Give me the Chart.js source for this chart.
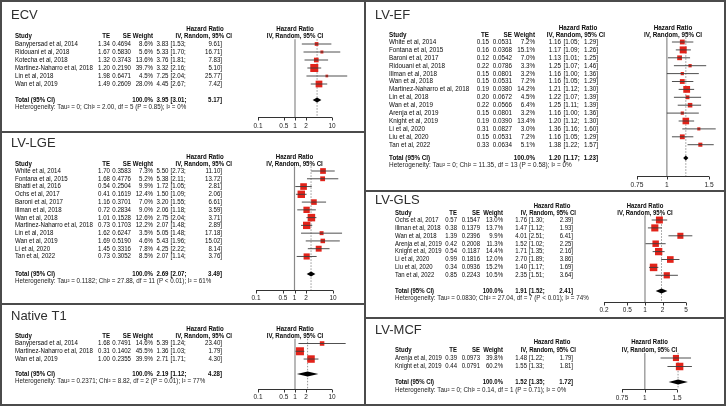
<!DOCTYPE html>
<html>
<head>
<meta charset="utf-8">
<script src="https://cdn.jsdelivr.net/npm/chart.js@4.4.1/dist/chart.umd.min.js"></script>
<style>
html, body { margin: 0; padding: 0; background: #fff; }
body { width: 728px; height: 407px; position: relative; overflow: hidden; }
.panel { position: absolute; box-sizing: border-box; border: 2px solid #4b4b4b; background: #fff; }
.panel canvas { position: absolute; left: -2px; top: -2px; }
</style>
</head>
<body>
<script>
// ---- ECV
const ecvStudy = ['Banypersad et al, 2014', 'Ridouani et al, 2018', 'Kotecha et al, 2018', 'Martinez-Naharro et al, 2018', 'Lin et al, 2018', 'Wan et al, 2019'];
const ecvTE = [1.34, 1.67, 1.32, 1.20, 1.98, 1.49];
const ecvSE = [0.4694, 0.5830, 0.3743, 0.2190, 0.6471, 0.2609];
const ecvWeight = [8.6, 5.6, 13.6, 39.7, 4.5, 28.0];
const ecvHR = [3.83, 5.33, 3.76, 3.32, 7.25, 4.45];
const ecvLo = [1.53, 1.70, 1.81, 2.16, 2.04, 2.67];
const ecvHi = [9.61, 16.71, 7.83, 5.10, 25.77, 7.42];
const ecvPooled = [3.95, 3.01, 5.17];
const ecvHet = 'Heterogeneity: Tau\u00b2 = 0; Chi\u00b2 = 2.00, df = 5 (P = 0.85); I\u00b2 = 0%';
const ecvTicks = [0.1, 0.5, 1, 2, 10];

// ---- LV-LGE
const lgeStudy = ['White et al, 2014', 'Fontana et al, 2015', 'Bhatti et al, 2016', 'Ochs et al, 2017', 'Baroni et al, 2017', 'Illman et al, 2018', 'Wan et al, 2018', 'Martinez-Naharro et al, 2018', 'Lin et al, 2018', 'Wan et al, 2019', 'Li et al, 2020', 'Tan et al, 2022'];
const lgeTE = [1.70, 1.68, 0.54, 0.41, 1.16, 0.72, 1.01, 0.73, 1.62, 1.69, 1.45, 0.73];
const lgeSE = [0.3583, 0.4776, 0.2504, 0.1619, 0.3701, 0.2834, 0.1528, 0.1703, 0.6247, 0.5190, 0.3316, 0.3052];
const lgeWeight = [7.3, 5.2, 9.9, 12.4, 7.0, 9.0, 12.6, 12.2, 3.5, 4.6, 7.8, 8.5];
const lgeHR = [5.50, 5.38, 1.72, 1.50, 3.20, 2.06, 2.75, 2.07, 5.05, 5.43, 4.25, 2.07];
const lgeLo = [2.73, 2.11, 1.05, 1.09, 1.55, 1.18, 2.04, 1.48, 1.48, 1.96, 2.22, 1.14];
const lgeHi = [11.10, 13.72, 2.81, 2.06, 6.61, 3.59, 3.71, 2.89, 17.18, 15.02, 8.14, 3.76];
const lgePooled = [2.69, 2.07, 3.49];
const lgeHet = 'Heterogeneity: Tau\u00b2 = 0.1182; Chi\u00b2 = 27.88, df = 11 (P < 0.01); I\u00b2 = 61%';
const lgeTicks = [0.1, 0.5, 1, 2, 10];

// ---- Native T1
const t1Study = ['Banypersad et al, 2014', 'Martinez-Naharro et al, 2018', 'Wan et al, 2019'];
const t1TE = [1.68, 0.31, 1.00];
const t1SE = [0.7491, 0.1402, 0.2355];
const t1Weight = [14.6, 45.5, 39.9];
const t1HR = [5.39, 1.36, 2.71];
const t1Lo = [1.24, 1.03, 1.71];
const t1Hi = [23.40, 1.79, 4.30];
const t1Pooled = [2.19, 1.12, 4.28];
const t1Het = 'Heterogeneity: Tau\u00b2 = 0.2371; Chi\u00b2 = 8.82, df = 2 (P = 0.01); I\u00b2 = 77%';
const t1Ticks = [0.1, 0.5, 1, 2, 10];

// ---- LV-EF
const efStudy = ['White et al, 2014', 'Fontana et al, 2015', 'Baroni et al, 2017', 'Ridouani et al, 2018', 'Illman et al, 2018', 'Wan et al, 2018', 'Martinez-Naharro et al, 2018', 'Lin et al, 2018', 'Wan et al, 2019', 'Arenja et al, 2019', 'Knight et al, 2019', 'Li et al, 2020', 'Liu et al, 2020', 'Tan et al, 2022'];
const efTE = [0.15, 0.16, 0.12, 0.22, 0.15, 0.15, 0.19, 0.20, 0.22, 0.15, 0.19, 0.31, 0.15, 0.33];
const efSE = [0.0531, 0.0368, 0.0542, 0.0786, 0.0801, 0.0531, 0.0380, 0.0672, 0.0566, 0.0801, 0.0390, 0.0827, 0.0531, 0.0634];
const efWeight = [7.2, 15.1, 7.0, 3.3, 3.2, 7.2, 14.2, 4.5, 6.4, 3.2, 13.4, 3.0, 7.2, 5.1];
const efHR = [1.16, 1.17, 1.13, 1.25, 1.16, 1.16, 1.21, 1.22, 1.25, 1.16, 1.20, 1.36, 1.16, 1.38];
const efLo = [1.05, 1.09, 1.01, 1.07, 1.00, 1.05, 1.12, 1.07, 1.11, 1.00, 1.12, 1.16, 1.05, 1.22];
const efHi = [1.29, 1.26, 1.25, 1.46, 1.36, 1.29, 1.30, 1.39, 1.39, 1.36, 1.30, 1.60, 1.29, 1.57];
const efPooled = [1.20, 1.17, 1.23];
const efHet = 'Heterogeneity: Tau\u00b2 = 0; Chi\u00b2 = 11.35, df = 13 (P = 0.58); I\u00b2 = 0%';
const efTicks = [0.75, 1, 1.5];

// ---- LV-GLS
const glsStudy = ['Ochs et al, 2017', 'Illman et al, 2018', 'Wan et al, 2018', 'Arenja et al, 2019', 'Knight et al, 2019', 'Li et al, 2020', 'Liu et al, 2020', 'Tan et al, 2022'];
const glsTE = [0.57, 0.38, 1.39, 0.42, 0.54, 0.99, 0.34, 0.85];
const glsSE = [0.1547, 0.1379, 0.2396, 0.2008, 0.1187, 0.1816, 0.0936, 0.2243];
const glsWeight = [13.0, 13.7, 9.9, 11.3, 14.4, 12.0, 15.2, 10.5];
const glsHR = [1.76, 1.47, 4.01, 1.52, 1.71, 2.70, 1.40, 2.35];
const glsLo = [1.30, 1.12, 2.51, 1.02, 1.35, 1.89, 1.17, 1.51];
const glsHi = [2.39, 1.93, 6.41, 2.25, 2.16, 3.86, 1.69, 3.64];
const glsPooled = [1.91, 1.52, 2.41];
const glsHet = 'Heterogeneity: Tau\u00b2 = 0.0830; Chi\u00b2 = 27.04, df = 7 (P < 0.01); I\u00b2 = 74%';
const glsTicks = [0.2, 0.5, 1, 2, 5];

// ---- LV-MCF
const mcfStudy = ['Arenja et al, 2019', 'Knight et al, 2019'];
const mcfTE = [0.39, 0.44];
const mcfSE = [0.0973, 0.0791];
const mcfWeight = [39.8, 60.2];
const mcfHR = [1.48, 1.55];
const mcfLo = [1.22, 1.33];
const mcfHi = [1.79, 1.81];
const mcfPooled = [1.52, 1.35, 1.72];
const mcfHet = 'Heterogeneity: Tau\u00b2 = 0; Chi\u00b2 = 0.14, df = 1 (P = 0.71); I\u00b2 = 0%';
const mcfTicks = [0.75, 1, 1.5];

const FONT = '"Liberation Sans", Arial, sans-serif';
const RED = '#e2231a';

// text with optional horizontal squeeze (the figure's type is a bit narrow)
function txt(ctx, s, x, y, align, bold, size, color, sx) {
  sx = sx || 1;
  ctx.save();
  ctx.font = (bold ? 'bold ' : '') + size + 'px ' + FONT;
  ctx.textAlign = align;
  ctx.textBaseline = 'middle';
  ctx.fillStyle = color || '#0a0a0a';
  ctx.translate(x, y);
  ctx.scale(sx, 1);
  ctx.fillText(s, 0, 0);
  ctx.restore();
}

// column x positions (page px)
const colsLeft = { title: 11, name: 15, te: 110, se: 131, wt: 153, est: 168.5, lo: 170.5, hi: 222, hdr: 232, hrc: 205, fs: 6.8, sx: 0.9 };
const colsEF = { title: 375, name: 389, te: 489, se: 512, wt: 535, est: 561, lo: 563.5, hi: 598, hdr: 605, hrc: 578, fs: 7, sx: 0.9 };
const colsGLS = { title: 375, name: 395, te: 457, se: 480, wt: 503, est: 527, lo: 529, hi: 573, hdr: 576, hrc: 552, fs: 6.8, sx: 0.88 };

function makePanel(p) {
  const [bx, by, bw, bh] = p.box;
  const div = document.createElement('div');
  div.className = 'panel';
  Object.assign(div.style, { left: bx + 'px', top: by + 'px', width: bw + 'px', height: bh + 'px' });
  const cv = document.createElement('canvas');
  cv.width = bw;
  cv.height = bh;
  div.appendChild(cv);
  document.body.appendChild(div);

  const g = p.geo, c = p.cols;
  const [vMin, vMax, pxMin, pxMax] = p.axis;
  const yAx = (g.axis - g.row0) / g.rowH;
  const yTot = (g.total - g.row0) / g.rowH;
  const maxW = Math.max(...p.wt);
  const [pe, pl, ph] = p.pooled;

  const datasets = [];
  datasets.push({ type: 'line', data: [{ x: 1, y: -0.6 }, { x: 1, y: yAx }], borderColor: '#8a8a8a', borderWidth: 1.2, pointRadius: 0, order: 9, clip: false });
  datasets.push({ type: 'line', data: [{ x: pe, y: -0.6 }, { x: pe, y: yAx }], borderColor: '#7a7a7a', borderWidth: 0.8, borderDash: [1.5, 1.5], pointRadius: 0, order: 8, clip: false });
  datasets.push({
    type: 'scatter', data: p.hr.map((v, i) => ({ x: v, y: i })), pointStyle: 'rect',
    pointRadius: p.wt.map(w => Math.max(2.2, p.maxSide * Math.sqrt(w / maxW)) / Math.SQRT2),
    backgroundColor: RED, borderWidth: 0, order: 5, clip: false
  });
  p.lo.forEach((lo, i) => datasets.push({
    type: 'line', data: [{ x: lo, y: i }, { x: p.hi[i], y: i }], borderColor: '#3c3c3c', borderWidth: 0.9, pointRadius: 0, order: 3, clip: false
  }));

  const tablePlugin = {
    id: 'table',
    afterDraw(chart) {
      const ctx = chart.ctx, xs = chart.scales.x, ys = chart.scales.y;
      const X = v => v - bx, Y = v => v - by;
      const fs = c.fs, sx = c.sx;
      ctx.save();
      // pooled diamond
      const ty = ys.getPixelForValue(yTot);
      ctx.fillStyle = '#000';
      ctx.beginPath();
      ctx.moveTo(xs.getPixelForValue(pl), ty);
      ctx.lineTo(xs.getPixelForValue(pe), ty - 2.6);
      ctx.lineTo(xs.getPixelForValue(ph), ty);
      ctx.lineTo(xs.getPixelForValue(pe), ty + 2.6);
      ctx.closePath();
      ctx.fill();

      txt(ctx, p.title, X(c.title), Y(g.title), 'left', false, 13, '#2e2e2e');
      // headers
      txt(ctx, 'Hazard Ratio', X(c.hrc), Y(g.h1), 'center', true, fs, null, sx);
      txt(ctx, 'Study', X(c.name), Y(g.h2), 'left', true, fs, null, sx);
      txt(ctx, 'TE', X(c.te), Y(g.h2), 'right', true, fs, null, sx);
      txt(ctx, 'SE', X(c.se), Y(g.h2), 'right', true, fs, null, sx);
      txt(ctx, 'Weight', X(c.wt), Y(g.h2), 'right', true, fs, null, sx);
      txt(ctx, 'IV, Random, 95% CI', X(c.hdr), Y(g.h2), 'right', true, fs, null, sx);
      const fc = (xs.left + xs.right) / 2;
      txt(ctx, 'Hazard Ratio', fc, Y(g.h1), 'center', true, fs, null, sx);
      txt(ctx, 'IV, Random, 95% CI', fc, Y(g.h2), 'center', true, fs, null, sx);
      // rows
      p.studies.forEach((s, i) => {
        const y = ys.getPixelForValue(i);
        txt(ctx, s, X(c.name), y, 'left', false, fs, null, sx);
        txt(ctx, p.te[i].toFixed(2), X(c.te), y, 'right', false, fs, null, sx);
        txt(ctx, p.se[i].toFixed(4), X(c.se), y, 'right', false, fs, null, sx);
        txt(ctx, p.wt[i].toFixed(1) + '%', X(c.wt), y, 'right', false, fs, null, sx);
        txt(ctx, p.hr[i].toFixed(2), X(c.est), y, 'right', false, fs, null, sx);
        txt(ctx, '[' + p.lo[i].toFixed(2) + ';', X(c.lo), y, 'left', false, fs, null, sx);
        txt(ctx, p.hi[i].toFixed(2) + ']', X(c.hi), y, 'right', false, fs, null, sx);
      });
      // total
      txt(ctx, 'Total (95% CI)', X(c.name), ty, 'left', true, fs, null, sx);
      txt(ctx, '100.0%', X(c.wt), ty, 'right', true, fs, null, sx);
      txt(ctx, pe.toFixed(2), X(c.est), ty, 'right', true, fs, null, sx);
      txt(ctx, '[' + pl.toFixed(2) + ';', X(c.lo), ty, 'left', true, fs, null, sx);
      txt(ctx, ph.toFixed(2) + ']', X(c.hi), ty, 'right', true, fs, null, sx);
      txt(ctx, p.het, X(c.name), Y(g.het), 'left', false, fs - 0.3, '#222', 0.96);
      // x axis
      const ay = Math.round(Y(g.axis)) + 0.5;
      ctx.strokeStyle = '#333';
      ctx.lineWidth = 1;
      ctx.beginPath();
      ctx.moveTo(xs.getPixelForValue(vMin), ay);
      ctx.lineTo(xs.getPixelForValue(vMax), ay);
      p.ticks.forEach(t => {
        const tx = Math.round(xs.getPixelForValue(t)) + 0.5;
        ctx.moveTo(tx, ay);
        ctx.lineTo(tx, ay + 3);
      });
      ctx.stroke();
      p.ticks.forEach(t => txt(ctx, String(t), xs.getPixelForValue(t), Y(g.labels), 'center', false, fs, '#222', 0.95));
      ctx.restore();
    }
  };

  new Chart(cv, {
    type: 'scatter',
    data: { datasets },
    options: {
      responsive: false,
      animation: false,
      events: [],
      layout: { padding: { left: pxMin - bx, right: bx + bw - pxMax, top: g.row0 - 3 * g.rowH - by, bottom: by + bh - g.axis } },
      scales: {
        x: { type: 'logarithmic', min: vMin, max: vMax, display: false },
        y: { type: 'linear', min: -3, max: yAx, reverse: true, display: false }
      },
      plugins: { legend: { display: false }, tooltip: { enabled: false } }
    },
    plugins: [tablePlugin]
  });
}

makePanel({
  box: [0, 0, 366, 133], title: 'ECV', cols: colsLeft,
  studies: ecvStudy, te: ecvTE, se: ecvSE, wt: ecvWeight, hr: ecvHR, lo: ecvLo, hi: ecvHi,
  pooled: ecvPooled, het: ecvHet, ticks: ecvTicks, axis: [0.1, 10, 258, 332], maxSide: 8,
  geo: { title: 15, h1: 29, h2: 36.5, row0: 44, rowH: 8, total: 100, het: 107, axis: 117, labels: 126 }
});
makePanel({
  box: [0, 131, 366, 174], title: 'LV-LGE', cols: colsLeft,
  studies: lgeStudy, te: lgeTE, se: lgeSE, wt: lgeWeight, hr: lgeHR, lo: lgeLo, hi: lgeHi,
  pooled: lgePooled, het: lgeHet, ticks: lgeTicks, axis: [0.1, 10, 256, 333], maxSide: 7.5,
  geo: { title: 143, h1: 157, h2: 164, row0: 171, rowH: 7.77, total: 274, het: 281, axis: 290, labels: 298 }
});
makePanel({
  box: [0, 303, 366, 103], title: 'Native T1', cols: colsLeft,
  studies: t1Study, te: t1TE, se: t1SE, wt: t1Weight, hr: t1HR, lo: t1Lo, hi: t1Hi,
  pooled: t1Pooled, het: t1Het, ticks: t1Ticks, axis: [0.1, 10, 258, 332], maxSide: 8,
  geo: { title: 316, h1: 329, h2: 336, row0: 343.5, rowH: 7.77, total: 374, het: 381, axis: 389, labels: 397 }
});
makePanel({
  box: [364, 0, 362, 192], title: 'LV-EF', cols: colsEF,
  studies: efStudy, te: efTE, se: efSE, wt: efWeight, hr: efHR, lo: efLo, hi: efHi,
  pooled: efPooled, het: efHet, ticks: efTicks, axis: [0.75, 1.5, 637, 709], maxSide: 7,
  geo: { title: 15, h1: 28, h2: 35, row0: 42, rowH: 7.9, total: 158, het: 165.5, axis: 176, labels: 185 }
});
makePanel({
  box: [364, 190, 362, 129], title: 'LV-GLS', cols: colsGLS,
  studies: glsStudy, te: glsTE, se: glsSE, wt: glsWeight, hr: glsHR, lo: glsLo, hi: glsHi,
  pooled: glsPooled, het: glsHet, ticks: glsTicks, axis: [0.2, 5, 604, 686], maxSide: 7.5,
  geo: { title: 200, h1: 206, h2: 213, row0: 220, rowH: 7.9, total: 291, het: 298.5, axis: 302, labels: 310 }
});
makePanel({
  box: [364, 317, 362, 89], title: 'LV-MCF', cols: colsGLS,
  studies: mcfStudy, te: mcfTE, se: mcfSE, wt: mcfWeight, hr: mcfHR, lo: mcfLo, hi: mcfHi,
  pooled: mcfPooled, het: mcfHet, ticks: mcfTicks, axis: [0.75, 1.5, 622, 677], maxSide: 7.5,
  geo: { title: 330, h1: 342, h2: 350, row0: 358, rowH: 8.5, total: 382, het: 390, axis: 389, labels: 398 }
});
</script>
</body>
</html>
